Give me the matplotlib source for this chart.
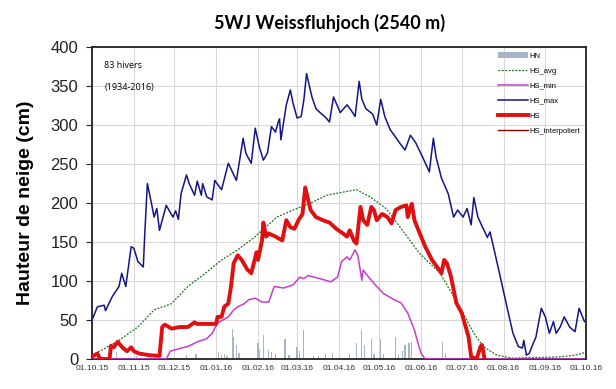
import numpy as np
import pandas as pd
import matplotlib
matplotlib.use("Agg")
import matplotlib.pyplot as plt
import matplotlib.dates as mdates

# days since 01.10.2015 and snow heights (cm)
start = pd.Timestamp("2015-10-01")

max_days = [0, 4, 9, 10, 15, 20, 22, 25, 29, 31, 34, 38, 39, 41, 44, 46, 48, 50, 55, 60, 62, 64,
            66, 70, 72, 76, 78, 81, 82, 85, 89, 91, 96, 101, 107, 112, 114, 118, 121, 124, 127, 130,
            133, 136, 138, 139, 140, 144, 147, 149, 152, 155, 157, 159, 163, 166, 169, 173, 176, 179,
            181, 184, 189, 192, 195, 198, 200, 203, 208, 211, 214, 217, 221, 224, 228, 232, 236, 240,
            245, 250, 253, 255, 259, 264, 268, 271, 275, 278, 281, 283, 286, 290, 293, 295, 297, 302,
            307, 312, 316, 319, 320, 322, 324, 327, 329, 333, 336, 339, 342, 344, 347, 350, 354, 358,
            361, 365]
max_vals = [50, 67, 69, 62, 80, 93, 110, 93, 144, 142, 125, 118, 157, 225, 200, 182, 193, 165, 197, 182, 190, 179,
            212, 236, 225, 210, 228, 210, 225, 208, 204, 229, 217, 251, 229, 283, 264, 251, 296, 272, 255, 264,
            298, 291, 304, 308, 281, 326, 345, 328, 309, 311, 332, 366, 336, 321, 316, 310, 304, 336,
            328, 316, 326, 319, 311, 356, 333, 321, 314, 300, 333, 311, 294, 287, 277, 268, 287, 277,
            259, 240, 283, 259, 232, 212, 182, 191, 182, 193, 172, 207, 182, 167, 156, 163, 148, 110,
            71, 33, 16, 14, 24, 5, 7, 20, 28, 65, 54, 33, 48, 33, 41, 54, 41, 35,
            65, 48]

avg_days = [0, 10, 20, 34, 46, 59, 71, 84, 96, 108, 121, 137, 149, 162, 174, 186, 196, 206, 218,
            231, 243, 258, 275, 283, 290, 300, 312, 324, 336, 349, 358, 365]
avg_vals = [5, 14, 24, 41, 63, 71, 93, 110, 127, 140, 157, 182, 191, 200, 210, 214, 217, 208, 193,
            163, 135, 110, 59, 33, 16, 5, 1, 2, 2, 3, 5, 8]

min_days = [0, 55, 58, 66, 71, 78, 85, 89, 93, 101, 105, 108, 113, 116, 121, 126, 131, 135, 142,
            149, 154, 157, 160, 169, 177, 182, 185, 189, 191, 195, 197, 200, 201, 206, 211, 216, 224,
            229, 234, 239, 241, 244, 247, 365]
min_vals = [0, 0, 10, 14, 16, 22, 26, 33, 46, 54, 63, 67, 71, 76, 78, 73, 73, 93, 91,
            95, 105, 103, 107, 103, 99, 105, 125, 131, 127, 140, 133, 101, 114, 103, 93, 84, 76,
            72, 59, 37, 24, 7, 0, 0]

hs_days = [0, 4, 6, 13, 14, 16, 19, 20, 23, 26, 29, 31, 35, 42, 50, 52, 54, 59, 65, 71, 76, 78,
           86, 92, 93, 96, 98, 101, 103, 105, 108, 111, 115, 118, 122, 123, 126, 127, 129, 131, 136,
           141, 144, 147, 150, 153, 156, 158, 162, 166, 171, 176, 181, 186, 189, 191, 194, 196, 199,
           201, 204, 207, 209, 211, 215, 219, 222, 225, 229, 233, 234, 237, 239, 242, 247, 252, 255,
           259, 261, 263, 266, 270, 274, 276, 279, 281, 285, 288, 289, 291]
hs_vals = [3, 7, 0, 0, 17, 15, 22, 20, 14, 10, 15, 10, 7, 5, 4, 41, 44, 39, 41, 41, 47, 45,
           45, 45, 54, 54, 67, 71, 93, 123, 133, 127, 115, 110, 137, 127, 152, 175, 157, 161, 157,
           152, 178, 169, 167, 178, 186, 220, 191, 182, 178, 175, 167, 161, 157, 165, 152, 148, 195,
           178, 172, 195, 191, 178, 186, 182, 174, 191, 195, 197, 182, 199, 178, 165, 144, 127, 120,
           110, 127, 123, 106, 72, 59, 47, 29, 3, 0, 16, 18, 0]

hn_days = [18, 33, 70, 77, 94, 96, 98, 100, 104, 105, 107, 109, 123, 124, 127, 131, 133, 136, 143, 146,
           152, 154, 157, 164, 168, 173, 178, 191, 196, 200, 202, 207, 209, 214, 216, 225, 227, 230,
           232, 235, 237, 260, 262]
hn_vals = [9, 4, 5, 6, 9, 5, 7, 4, 39, 28, 18, 8, 20, 12, 31, 12, 9, 6, 26, 5,
           15, 10, 37, 4, 4, 6, 8, 6, 20, 37, 18, 26, 7, 26, 6, 28, 6, 10,
           18, 20, 22, 22, 8]

interp_days = []
interp_vals = []


def to_dates(days):
    return start + pd.to_timedelta(days, unit="D")


plt.rcParams["font.family"] = ["Liberation Sans", "DejaVu Sans"]

fig = plt.figure(figsize=(6.16, 3.89), dpi=100)
ax = fig.add_axes([0.1494, 0.0771, 0.8016, 0.8019])

ax.bar(to_dates(hn_days), hn_vals, width=0.9, color="#a6b4c8", label="HN", zorder=2)
ax.plot(to_dates(avg_days), avg_vals, color="#1e6e1e", lw=0.9, ls=(0, (1.5, 1.2)), label="HS_avg", zorder=3)
ax.plot(to_dates(min_days), min_vals, color="#c83ccc", lw=1.1, label="HS_min", zorder=3)
ax.plot(to_dates(max_days), max_vals, color="#141488", lw=1.1, label="HS_max", zorder=3)
ax.plot(to_dates(hs_days), hs_vals, color="#e01010", lw=2.8, label="HS", zorder=4)
ax.plot(to_dates(interp_days), interp_vals, color="#8b0000", lw=1.0, label="HS_interpoliert", zorder=4)

ax.set_xlim(start, pd.Timestamp("2016-10-01"))
ax.set_ylim(0, 400)
ax.set_yticks(np.arange(0, 401, 50))
ax.xaxis.set_major_locator(mdates.MonthLocator())
ax.xaxis.set_major_formatter(mdates.DateFormatter("%d.%m.%y"))
ax.grid(True, color="#d8d8d8", lw=0.8, zorder=0)
ax.set_axisbelow(True)

ax.tick_params(axis="x", labelsize=6, colors="#333333", length=0, pad=4)
ax.tick_params(axis="y", labelsize=12, colors="#222222", length=4, width=0.8, pad=6)
for s in ax.spines.values():
    s.set_linewidth(1.3)
    s.set_color("#222222")

ax.set_ylabel("Hauteur de neige (cm)", fontsize=14, fontweight="bold", labelpad=12)
fig.suptitle("5WJ Weissfluhjoch (2540 m)", x=0.535, y=0.965, fontsize=13, fontweight="bold",
             family=["Lato", "DejaVu Sans"])

ax.text(0.025, 0.955, "83 hivers", transform=ax.transAxes, fontsize=6.5, va="top",
        family=["Open Sans", "DejaVu Sans"])
ax.text(0.025, 0.885, "(1934-2016)", transform=ax.transAxes, fontsize=6.5, va="top",
        family=["Open Sans", "DejaVu Sans"])

# legend order as in the reference: HN first, HS_min before HS_max
handles, labels = ax.get_legend_handles_labels()
order = ["HN", "HS_avg", "HS_min", "HS_max", "HS", "HS_interpoliert"]
pairs = dict(zip(labels, handles))
ax.legend([pairs[k] for k in order], order, loc="upper right", bbox_to_anchor=(1.0, 1.0),
          frameon=False, fontsize=5.5, handlelength=4.0, handletextpad=0.2, labelspacing=1.0,
          borderaxespad=0.3)

fig.savefig("out.png", dpi=100)
